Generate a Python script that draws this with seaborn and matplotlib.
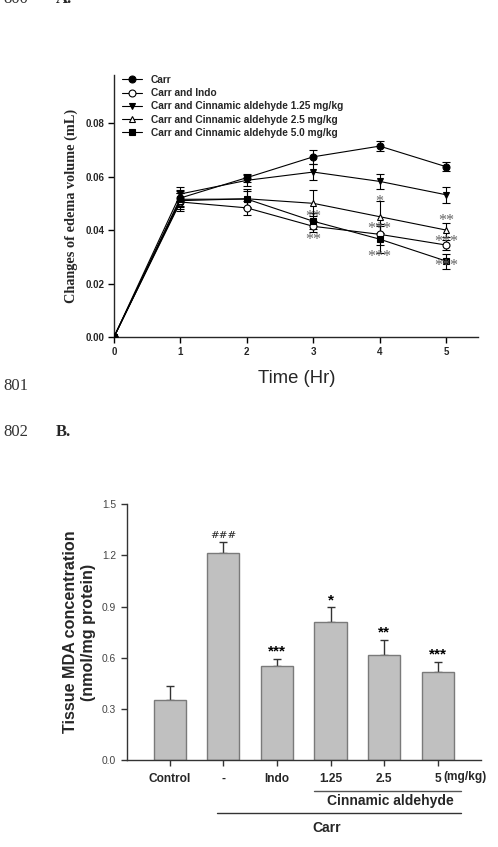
import matplotlib
matplotlib.use("Agg")
import matplotlib.pyplot as plt
import seaborn as sns
import numpy as np

# ---- panel A data: paw edema volume over time ----
hours = [0, 1, 2, 3, 4, 5]
carr = [0.0, 0.0520, 0.0596, 0.0674, 0.0714, 0.0637]
carr_err = [0.0, 0.0030, 0.0015, 0.0027, 0.0019, 0.0017]
indo = [0.0, 0.0505, 0.0483, 0.0414, 0.0384, 0.0344]
indo_err = [0.0, 0.0035, 0.0025, 0.0020, 0.0040, 0.0020]
ca_125 = [0.0, 0.0535, 0.0586, 0.0617, 0.0582, 0.0532]
ca_125_err = [0.0, 0.0025, 0.0020, 0.0029, 0.0029, 0.0029]
ca_25 = [0.0, 0.0510, 0.0517, 0.0500, 0.0450, 0.0400]
ca_25_err = [0.0, 0.0030, 0.0035, 0.0048, 0.0060, 0.0027]
ca_50 = [0.0, 0.0515, 0.0516, 0.0433, 0.0366, 0.0284]
ca_50_err = [0.0, 0.0030, 0.0030, 0.0030, 0.0050, 0.0028]
series_names = ["Carr", "Carr and Indo", "Carr and Cinnamic aldehyde 1.25 mg/kg",
                "Carr and Cinnamic aldehyde 2.5 mg/kg", "Carr and Cinnamic aldehyde 5.0 mg/kg"]

# significance marks (hour, y, text)
sig_a = [(3, 0.0460, "**"), (3, 0.0374, "**"),
         (4, 0.0515, "*"), (4, 0.0414, "***"), (4, 0.0310, "***"),
         (5, 0.0445, "**"), (5, 0.0366, "***"), (5, 0.0277, "***")]

# ---- panel B data: tissue MDA ----
groups = ["Control", "-", "Indo", "1.25", "2.5", "5"]
mda = [0.352, 1.215, 0.552, 0.812, 0.618, 0.516]
mda_err = [0.082, 0.062, 0.041, 0.084, 0.088, 0.060]
sig_b = ["", "###", "***", "*", "**", "***"]

sns.set_theme(style="ticks")
plt.rcParams["font.family"] = ["Liberation Sans", "DejaVu Sans"]
plt.rcParams["axes.linewidth"] = 1.0

fig = plt.figure(figsize=(4.98, 8.47), dpi=100)
W, H = 498, 847


def px_axes(left, top, right, bottom):
    return fig.add_axes([left / W, 1 - bottom / H, (right - left) / W, (bottom - top) / H])


# ================= Panel A =================
ax = px_axes(114, 75, 478, 337)
styles = [
    (carr, carr_err, "o", "black"),
    (indo, indo_err, "o", "white"),
    (ca_125, ca_125_err, "v", "black"),
    (ca_25, ca_25_err, "^", "white"),
    (ca_50, ca_50_err, "s", "black"),
]
for (vals, errs, mk, fc), name in zip(styles, series_names):
    ax.errorbar(hours, vals, yerr=errs, fmt="none", ecolor="black", elinewidth=0.8,
                capsize=3, capthick=0.8, zorder=2)
    sns.lineplot(x=hours, y=vals, ax=ax, color="black", linewidth=0.8, marker=mk,
                 markersize=5, markerfacecolor=fc, markeredgecolor="black",
                 markeredgewidth=0.8, label=name, zorder=3)

for hx, hy, txt in sig_a:
    ax.text(hx, hy - 0.001, txt, ha="center", va="center", fontsize=11.5,
            color="#666666", family="Liberation Serif")

ax.set_xlim(0, 5.48)
ax.set_ylim(0, 0.098)
ax.set_xticks(hours)
ax.set_yticks([0.0, 0.02, 0.04, 0.06, 0.08])
ax.set_yticklabels(["0.00", "0.02", "0.04", "0.06", "0.08"])
for lab in ax.get_xticklabels() + ax.get_yticklabels():
    lab.set_fontweight("bold")
    lab.set_fontsize(7)
ax.tick_params(length=4, width=1, color="black", pad=3)
sns.despine(ax=ax)
ax.set_ylabel("Changes of edema volume (mL)", family="Liberation Serif",
              fontweight="bold", fontsize=10.3, labelpad=5)
ax.set_xlabel("")
ax.legend(loc="upper left", bbox_to_anchor=(0.021, 1.0), frameon=False,
          prop={"weight": "bold", "size": 7.3}, handlelength=2.0,
          handletextpad=0.9, labelspacing=0.32, borderpad=0, borderaxespad=0)

fig.text(297 / W, 1 - 378 / H, "Time (Hr)", ha="center", va="center", fontsize=13.3)

# line numbers / panel letters (top ones are cut by the page edge in the source)
fig.text(3 / W, 1 + 1 / H, "800", ha="left", va="center", fontsize=12,
         family="Liberation Serif", color="#333333")
fig.text(56 / W, 1 + 1 / H, "A.", ha="left", va="center", fontsize=12,
         family="Liberation Serif", fontweight="bold")
fig.text(3 / W, 1 - 386 / H, "801", ha="left", va="center", fontsize=12,
         family="Liberation Serif", color="#333333")
fig.text(3 / W, 1 - 432 / H, "802", ha="left", va="center", fontsize=12,
         family="Liberation Serif", color="#333333")
fig.text(56 / W, 1 - 432 / H, "B.", ha="left", va="center", fontsize=12,
         family="Liberation Serif", fontweight="bold")

# ================= Panel B =================
bx = px_axes(126.7, 504.3, 480.7, 760)
sns.barplot(x=groups, y=mda, ax=bx, color="#c0c0c0", saturation=1, width=0.6,
            edgecolor="#7a7a7a", linewidth=1.0, zorder=2)
xpos = np.arange(len(groups))
bx.errorbar(xpos, mda, yerr=[np.zeros(len(mda)), mda_err], fmt="none",
            ecolor="#333333", elinewidth=1.0, capsize=3.2, capthick=1.0, zorder=1.5)
for xi, (v, e, s) in enumerate(zip(mda, mda_err, sig_b)):
    if not s:
        continue
    if s.startswith("#"):
        bx.text(xi, v + e + 0.015, s, ha="center", va="bottom", fontsize=7.5,
                family="DejaVu Serif", color="#222222")
    else:
        bx.text(xi, v + e, s, ha="center", va="bottom", fontsize=11,
                fontweight="bold", color="black")

bx.set_xlim(-0.8, 5.8)
bx.set_ylim(0, 1.5)
bx.set_yticks([0.0, 0.3, 0.6, 0.9, 1.2, 1.5])
bx.set_yticklabels(["0.0", "0.3", "0.6", "0.9", "1.2", "1.5"])
bx.tick_params(axis="y", labelsize=7.4, labelcolor="#444444", length=4, width=1,
               color="#333333")
bx.tick_params(axis="x", labelsize=8.6, length=4, width=1, color="#333333", pad=5)
for lab in bx.get_xticklabels():
    lab.set_fontweight("bold")
for sp in ["left", "bottom"]:
    bx.spines[sp].set_color("#333333")
sns.despine(ax=bx)
bx.set_ylabel("Tissue MDA concentration\n(nmol/mg protein)", fontweight="bold",
              fontsize=11.6, labelpad=4, linespacing=1.25)

fig.text(465 / W, 1 - 777 / H, "(mg/kg)", ha="center", va="center", fontsize=8.6,
         fontweight="bold")
fig.add_artist(plt.Line2D([314 / W, 461 / W], [1 - 790.7 / H] * 2, color="#555555",
                          linewidth=1.0))
fig.text(390 / W, 1 - 801 / H, "Cinnamic aldehyde", ha="center", va="center",
         fontsize=10, fontweight="bold")
fig.add_artist(plt.Line2D([217.3 / W, 461 / W], [1 - 813 / H] * 2, color="#333333",
                          linewidth=1.0))
fig.text(327 / W, 1 - 828 / H, "Carr", ha="center", va="center", fontsize=10,
         fontweight="bold")

fig.savefig("out.png", dpi=100)
